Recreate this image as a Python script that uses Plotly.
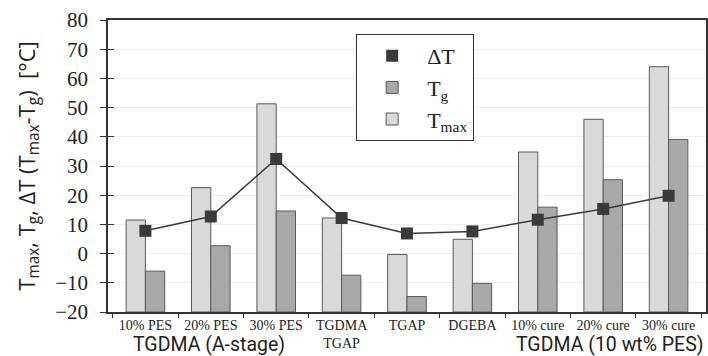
import plotly.graph_objects as go

# Sample categories (two-line label for the blend)
categories = ["10% PES", "20% PES", "30% PES", "TGDMA<br>TGAP", "TGAP",
              "DGEBA", "10% cure", "20% cure", "30% cure"]

# Temperatures in °C
t_max = [11.5, 22.6, 51.3, 12.2, -0.3, 4.9, 34.8, 46.0, 64.0]
t_g = [-6.0, 2.7, 14.6, -7.4, -14.7, -10.2, 15.9, 25.3, 39.1]
delta_t = [7.8, 12.7, 32.4, 12.2, 6.9, 7.6, 11.6, 15.3, 19.8]

Y_MIN, Y_MAX = -20, 80
y_ticks = list(range(Y_MIN, Y_MAX + 1, 10))

SERIF = "Liberation Serif"
SANS = "Open Sans"
INK = "#333333"
DARK = "#3a3a3a"

fig = go.Figure()

# Bars rise from the bottom of the axis range
fig.add_trace(go.Bar(
    x=categories, y=[v - Y_MIN for v in t_max], base=Y_MIN,
    name="T<sub>max</sub>", legendrank=3,
    marker=dict(color="#d9d9d9", line=dict(color="#5a5a5a", width=1)),
))
fig.add_trace(go.Bar(
    x=categories, y=[v - Y_MIN for v in t_g], base=Y_MIN,
    name="T<sub>g</sub>", legendrank=2,
    marker=dict(color="#a8a8a8", line=dict(color="#5a5a5a", width=1)),
))
# ΔT connecting line (kept out of the legend) and its square markers;
# both sit on an overlaid axis that carries the inner half of the tick marks
fig.add_trace(go.Scatter(
    x=categories, y=delta_t, yaxis="y2", mode="lines",
    line=dict(color=DARK, width=1.5), showlegend=False, hoverinfo="skip",
))
fig.add_trace(go.Scatter(
    x=categories, y=delta_t, yaxis="y2", mode="markers",
    name="ΔT", legendrank=1,
    marker=dict(symbol="square", size=12, color=DARK),
))

fig.update_layout(
    width=708, height=356,
    margin=dict(l=108, r=2, t=20, b=44, autoexpand=False),
    paper_bgcolor="white", plot_bgcolor="white",
    barmode="group", bargap=0.41, bargroupgap=0,
    font=dict(family=SERIF, color="#222222"),
    showlegend=True,
    legend=dict(
        x=0.415, y=0.952, xanchor="left", yanchor="top",
        bgcolor="white", bordercolor=INK, borderwidth=1,
        font=dict(family=SERIF, size=22, color="#222222"),
        itemwidth=60, tracegroupgap=0,
    ),
    xaxis=dict(
        type="category", tickson="boundaries", tickangle=0, automargin=False,
        ticks="outside", ticklen=4, tickcolor=INK, tickwidth=1,
        ticklabelstandoff=-1,
        showline=True, linecolor=INK, linewidth=1.5, mirror=True,
        showgrid=False,
        tickfont=dict(family=SERIF, size=14, color="#222222"),
    ),
    yaxis=dict(
        range=[Y_MIN, Y_MAX], tickvals=y_ticks, automargin=False,
        ticks="outside", ticklen=6, tickcolor=INK, tickwidth=1.2,
        ticklabelstandoff=8,
        showline=True, linecolor=INK, linewidth=1.5, mirror=True,
        showgrid=True, gridcolor="#eeeeee", gridwidth=1,
        zeroline=False,
        tickfont=dict(family=SERIF, size=21, color="#222222"),
        title=dict(
            text="T<sub>max</sub>, T<sub>g</sub>, ΔT (T<sub>max</sub>-T<sub>g</sub>)  [°C]",
            font=dict(family=SANS, size=22, color="#222222"),
            standoff=14,
        ),
    ),
    yaxis2=dict(
        range=[Y_MIN, Y_MAX], tickvals=y_ticks, overlaying="y", side="left",
        ticks="inside", ticklen=6, tickcolor=INK, tickwidth=1.2,
        showticklabels=False, showgrid=False, zeroline=False, showline=False,
    ),
    annotations=[
        dict(text="TGDMA (A-stage)", xref="paper", yref="paper",
             x=0.169, y=-0.111, xanchor="center", yanchor="middle",
             showarrow=False, font=dict(family="Roboto", size=19.5, color="#222222")),
        dict(text="TGDMA (10 wt% PES)", xref="paper", yref="paper",
             x=1.0, y=-0.111, xanchor="right", yanchor="middle",
             showarrow=False, font=dict(family="Roboto", size=19.5, color="#222222")),
    ],
)

fig.write_html("out.html")
